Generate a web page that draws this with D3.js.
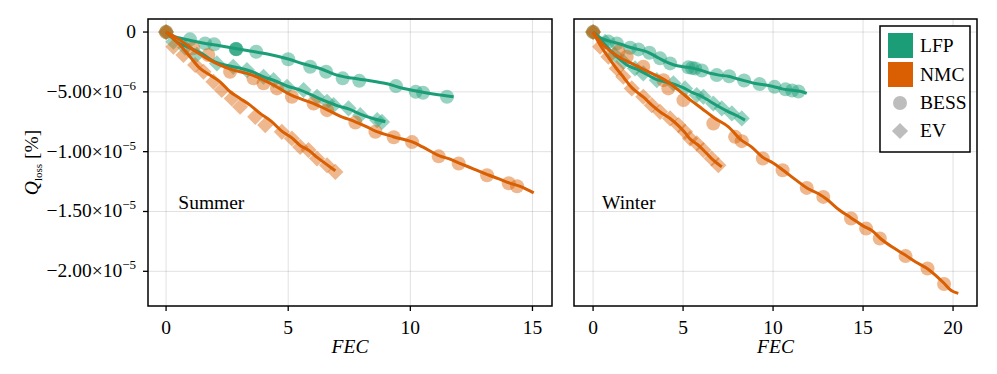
<!DOCTYPE html>
<html>
<head>
<meta charset="utf-8">
<script src="https://cdn.jsdelivr.net/npm/d3@7"></script>
<style>
  body { margin: 0; background: #fff; }
</style>
</head>
<body>
<div class="canvas"></div>
<script>
// values in units of 1e-6 (Q_loss), x in FEC
const summerLfpBess = [[0,0],[0.98,-0.61],[1.6,-0.95],[1.97,-1.03],[2.86,-1.42],[2.86,-1.42],[2.88,-1.44],
  [3.69,-1.65],[5.0,-2.28],[5.9,-2.9],[6.55,-3.32],[7.23,-3.87],[7.91,-4.08],[9.41,-4.52],[10.22,-5.0],[10.52,-5.08],[11.5,-5.41]];
const summerLfpEv = [[0,0],[0.3,-0.81],[0.78,-1.3],[1.26,-1.9],[2.08,-2.62],[2.75,-2.9],[3.31,-3.18],[3.99,-3.74],
  [4.4,-4.02],[4.95,-4.58],[5.63,-4.85],[6.18,-5.41],[6.59,-5.83],[6.86,-6.11],[7.47,-6.38],[7.95,-6.95],[8.64,-7.36],[8.84,-7.51]];
const summerNmcBess = [[0,0],[1.1,-1.35],[1.73,-1.92],[2.62,-3.32],[3.58,-3.87],[3.99,-4.29],[4.54,-4.71],[5.15,-5.41],
  [6.04,-5.97],[6.59,-6.53],[7.75,-7.57],[8.57,-8.34],[9.32,-8.79],[10.07,-9.2],[11.16,-10.39],[11.98,-10.99],
  [13.14,-11.97],[14.03,-12.64],[14.37,-12.89]];
const summerNmcEv = [[0,0],[0.3,-1.23],[0.71,-1.92],[1.19,-2.76],[1.53,-3.32],[1.94,-4.16],[2.28,-4.85],[2.69,-5.55],
  [3.03,-6.25],[3.65,-7.09],[4.06,-7.78],[4.74,-8.34],[5.15,-8.9],[5.49,-9.6],[5.83,-9.87],[6.18,-10.57],[6.59,-11.13],[6.93,-11.69]];

const winterLfpBess = [[0,0],[0.85,-0.8],[1.32,-0.95],[2.06,-1.31],[2.52,-1.45],[3.13,-1.73],[3.72,-2.2],[4.28,-2.62],
  [5.29,-2.95],[5.5,-3.0],[5.67,-3.04],[6.04,-3.22],[6.87,-3.6],[7.56,-3.7],[8.39,-4.05],[9.25,-4.35],[10.08,-4.58],
  [10.69,-4.79],[11.06,-4.89],[11.41,-4.97]];
const winterLfpEv = [[0,0],[0.67,-0.81],[1.2,-1.9],[1.68,-2.49],[2.33,-3.04],[2.79,-3.46],[3.54,-4.02],[4.46,-4.29],
  [5.11,-4.71],[5.76,-5.27],[6.13,-5.41],[6.68,-5.97],[7.15,-6.38],[7.71,-6.8],[8.26,-7.22]];
const winterNmcBess = [[0,0],[1.41,-1.65],[1.87,-2.07],[2.79,-2.9],[3.91,-4.02],[4.18,-4.71],[5.02,-5.69],[6.68,-7.64],
  [7.89,-8.76],[8.26,-9.12],[9.43,-10.57],[10.53,-11.55],[11.87,-13.03],[12.79,-13.78],[14.33,-15.59],[15.17,-16.43],
  [15.93,-17.26],[17.36,-18.73],[18.58,-19.77],[19.5,-21.06]];
const winterNmcEv = [[0,0],[0.39,-1.23],[0.85,-2.07],[1.32,-3.04],[1.68,-3.74],[2.15,-4.71],[2.79,-5.41],[3.26,-6.11],
  [3.72,-6.67],[4.28,-7.22],[4.74,-7.78],[5.11,-8.34],[5.39,-8.9],[5.76,-9.31],[6.13,-9.87],[6.59,-10.57],[6.96,-11.13]];

// fitted lines
const summerLfpBessLine = [[0,0],[0.3,-0.35],[1,-0.7],[1.6,-0.95],[2.2,-1.15],[2.9,-1.4],[3.5,-1.6],[4.2,-1.85],[5,-2.25],
  [5.6,-2.65],[6.3,-3.05],[7,-3.6],[7.6,-3.85],[8.3,-4.05],[9,-4.3],[9.6,-4.65],[10.3,-4.95],[11,-5.2],[11.77,-5.4]];
const summerLfpEvLine = [[0,0],[0.5,-0.9],[1,-1.35],[1.5,-1.85],[2,-2.5],[2.5,-2.8],[3,-3.0],[3.5,-3.3],[4,-3.75],
  [4.5,-4.1],[5,-4.55],[5.5,-4.85],[6,-5.3],[6.5,-5.75],[7,-6.15],[7.5,-6.45],[8,-6.9],[8.5,-7.25],[8.98,-7.5]];
const summerNmcBessLine = [[0,0],[0.57,-0.67],[1.12,-1.51],[1.67,-2.2],[2.21,-2.76],[2.76,-3.18],[3.31,-3.46],[3.85,-3.87],
  [4.4,-4.43],[5.15,-5.3],[6.0,-5.95],[6.6,-6.5],[7.1,-7.0],[7.75,-7.5],[8.2,-7.9],[8.6,-8.3],[9.3,-8.75],[10.1,-9.2],
  [10.5,-9.6],[11.2,-10.35],[11.6,-10.6],[12,-10.95],[12.6,-11.45],[13.2,-11.95],[13.6,-12.25],[14.1,-12.65],[14.5,-12.9],[15.05,-13.45]];
const summerNmcEvLine = [[0,0],[0.57,-1.09],[0.98,-2.07],[1.39,-3.04],[1.8,-3.6],[2.21,-4.16],[2.62,-4.99],[3.03,-5.55],
  [3.44,-6.11],[3.85,-6.8],[4.3,-7.45],[4.75,-8.3],[5.15,-8.85],[5.5,-9.5],[5.85,-9.9],[6.2,-10.5],[6.6,-11.1],[6.93,-11.6]];

const winterLfpBessLine = [[0,0],[0.5,-0.55],[1,-0.8],[1.5,-1.0],[2,-1.25],[2.5,-1.45],[3,-1.65],[3.5,-2.05],[4,-2.45],
  [4.5,-2.75],[5,-2.9],[5.5,-3.0],[6,-3.2],[6.5,-3.45],[7,-3.6],[7.5,-3.7],[8,-3.9],[8.5,-4.1],[9,-4.3],[9.5,-4.4],
  [10,-4.55],[10.5,-4.75],[11,-4.85],[11.5,-4.95],[11.87,-5.13]];
const winterLfpEvLine = [[0,0],[0.5,-0.8],[1,-1.6],[1.5,-2.3],[2,-2.85],[2.5,-3.15],[3,-3.55],[3.5,-3.95],[4,-4.15],
  [4.5,-4.35],[5,-4.65],[5.5,-5.05],[6,-5.35],[6.5,-5.8],[7,-6.25],[7.5,-6.65],[8,-7.0],[8.44,-7.36]];
const winterNmcBessLine = [[0,0],[0.67,-1.23],[1.41,-2.07],[2.33,-2.76],[3.26,-3.46],[4.0,-4.02],[4.74,-4.85],[5.29,-5.55],
  [6.04,-6.39],[6.78,-7.22],[7.52,-7.92],[8.2,-9.0],[8.8,-9.6],[9.45,-10.5],[10.0,-10.95],[10.6,-11.6],[11.3,-12.4],
  [11.9,-13.05],[12.5,-13.5],[13.0,-14.0],[13.7,-14.9],[14.3,-15.5],[15.0,-16.2],[15.5,-16.6],[16.0,-17.3],[16.6,-17.95],
  [17.3,-18.6],[17.9,-19.2],[18.6,-19.8],[19.0,-20.3],[19.5,-21.0],[19.9,-21.6],[20.29,-21.85]];
const winterNmcEvLine = [[0,0],[0.4,-1.1],[0.85,-2.1],[1.3,-3.05],[1.7,-3.8],[2.15,-4.65],[2.8,-5.45],[3.3,-6.15],
  [3.75,-6.7],[4.3,-7.25],[4.75,-7.85],[5.1,-8.4],[5.4,-8.95],[5.8,-9.4],[6.15,-9.9],[6.6,-10.6],[7.15,-11.27]];

const chemistries = ["LFP", "NMC"];
const usages = ["BESS", "EV"];
const yTicks = [0, -5, -10, -15, -20];
const xTicksSummer = [0, 5, 10, 15];
const xTicksWinter = [0, 5, 10, 15, 20];

const FONT = "'Liberation Serif', serif";
const FS = 19.5;
const color = d3.scaleOrdinal().domain(chemistries).range(["#1b9e77", "#d95f02"]);

const panels = [
  { name: "Summer", left: 148, right: 552, xDomain: [-0.74, 15.8], xTicks: xTicksSummer, showY: true,
    series: [
      { chem: "LFP", use: "BESS", pts: summerLfpBess, line: summerLfpBessLine },
      { chem: "LFP", use: "EV", pts: summerLfpEv, line: summerLfpEvLine },
      { chem: "NMC", use: "BESS", pts: summerNmcBess, line: summerNmcBessLine },
      { chem: "NMC", use: "EV", pts: summerNmcEv, line: summerNmcEvLine },
    ] },
  { name: "Winter", left: 574, right: 977, xDomain: [-1.06, 21.33], xTicks: xTicksWinter, showY: false,
    series: [
      { chem: "LFP", use: "BESS", pts: winterLfpBess, line: winterLfpBessLine },
      { chem: "LFP", use: "EV", pts: winterLfpEv, line: winterLfpEvLine },
      { chem: "NMC", use: "BESS", pts: winterNmcBess, line: winterNmcBessLine },
      { chem: "NMC", use: "EV", pts: winterNmcEv, line: winterNmcEvLine },
    ] },
];

const dims = { width: 997, height: 374, top: 19, bottom: 306 };

const svg = d3.select(".canvas").append("svg")
  .attr("width", dims.width).attr("height", dims.height);

const addText = (sel) => sel.append("text").style("font-family", FONT).attr("font-size", FS).attr("fill", "#000");

const y = d3.scaleLinear().domain([1.09, -22.9]).range([dims.top, dims.bottom]);

const circleSym = d3.symbol().type(d3.symbolCircle).size(Math.PI * 7 * 7);
const diamondSym = d3.symbol().type(d3.symbolSquare).size(130);

const drawMarker = (sel, use) => {
  sel.attr("d", use === "BESS" ? circleSym() : diamondSym());
};

const tickLabel = (v) => {
  if (v === 0) return [{ t: "0" }];
  const exp = Math.floor(Math.log10(Math.abs(v * 1e-6)));
  const mant = (v * 1e-6) / Math.pow(10, exp);
  return [{ t: "\u2212" + Math.abs(mant).toFixed(2) + "\u00d710" }, { t: "\u2212" + Math.abs(exp), sup: true }];
};

panels.forEach((p) => {
  const x = d3.scaleLinear().domain(p.xDomain).range([p.left, p.right]);
  const g = svg.append("g");

  // grid
  g.selectAll(".gx").data(p.xTicks).enter().append("line")
    .attr("x1", (d) => x(d)).attr("x2", (d) => x(d))
    .attr("y1", dims.top).attr("y2", dims.bottom)
    .attr("stroke", "rgba(0,0,0,0.12)").attr("stroke-width", 1);
  g.selectAll(".gy").data(yTicks).enter().append("line")
    .attr("x1", p.left).attr("x2", p.right)
    .attr("y1", (d) => y(d)).attr("y2", (d) => y(d))
    .attr("stroke", "rgba(0,0,0,0.12)").attr("stroke-width", 1);

  // clip
  const clipId = "clip-" + p.name;
  svg.append("clipPath").attr("id", clipId).append("rect")
    .attr("x", p.left).attr("y", dims.top)
    .attr("width", p.right - p.left).attr("height", dims.bottom - dims.top);
  const plot = g.append("g").attr("clip-path", `url(#${clipId})`);

  // markers
  p.series.forEach((s) => {
    plot.selectAll(null).data(s.pts).enter().append("path")
      .call(drawMarker, s.use)
      .attr("transform", (d) => `translate(${x(d[0])},${y(d[1])})` + (s.use === "EV" ? " rotate(45)" : ""))
      .attr("fill", color(s.chem)).attr("fill-opacity", 0.45);
  });

  // lines
  const line = d3.line().x((d) => x(d[0])).y((d) => y(d[1])).curve(d3.curveCatmullRom);
  p.series.forEach((s) => {
    plot.append("path").datum(s.line)
      .attr("d", line).attr("fill", "none")
      .attr("stroke", color(s.chem)).attr("stroke-width", 3)
      .attr("stroke-linejoin", "round").attr("stroke-linecap", "butt");
  });

  // frame
  g.append("rect").attr("x", p.left).attr("y", dims.top)
    .attr("width", p.right - p.left).attr("height", dims.bottom - dims.top)
    .attr("fill", "none").attr("stroke", "#000").attr("stroke-width", 1.5);

  // x ticks
  p.xTicks.forEach((d) => {
    g.append("line").attr("x1", x(d)).attr("x2", x(d))
      .attr("y1", dims.bottom).attr("y2", dims.bottom + 5).attr("stroke", "#000").attr("stroke-width", 1.3);
    addText(g).attr("x", x(d)).attr("y", dims.bottom + 28)
      .attr("text-anchor", "middle").text(d);
  });

  addText(g).attr("x", (p.left + p.right) / 2).attr("y", 353)
    .attr("text-anchor", "middle").attr("font-style", "italic").text("FEC");

  addText(g).attr("x", x(0.5)).attr("y", 209).text(p.name);

  if (p.showY) {
    yTicks.forEach((d) => {
      g.append("line").attr("x1", p.left - 5).attr("x2", p.left)
        .attr("y1", y(d)).attr("y2", y(d)).attr("stroke", "#000").attr("stroke-width", 1.3);
      const t = addText(g).attr("x", p.left - 12).attr("y", y(d) + 6).attr("text-anchor", "end");
      tickLabel(d).forEach((part) => {
        const ts = t.append("tspan").text(part.t);
        if (part.sup) ts.attr("font-size", 13).attr("dy", -8);
      });
    });

    const yl = addText(svg)
      .attr("transform", `translate(38, ${(dims.top + dims.bottom) / 2}) rotate(-90)`)
      .attr("text-anchor", "middle");
    yl.append("tspan").attr("font-style", "italic").text("Q");
    yl.append("tspan").attr("font-size", 11).attr("dy", 4).text("loss");
    yl.append("tspan").attr("dy", -4).text(" [%]");
  }
});

// legend
const legend = svg.append("g").attr("transform", "translate(880, 26)");
legend.append("rect").attr("width", 90).attr("height", 126)
  .attr("fill", "#fff").attr("stroke", "#000").attr("stroke-width", 1.5);
chemistries.forEach((c, i) => {
  legend.append("rect").attr("x", 8).attr("y", 7 + i * 29).attr("width", 25).attr("height", 25)
    .attr("fill", color(c));
  addText(legend).attr("x", 40).attr("y", 26 + i * 29).text(c);
});
usages.forEach((u, i) => {
  legend.append("path")
    .call(drawMarker, u)
    .attr("transform", `translate(20, ${77 + i * 28})` + (u === "EV" ? " rotate(45)" : ""))
    .attr("fill", "#bdbdbd");
  addText(legend).attr("x", 40).attr("y", 83 + i * 28).text(u);
});
</script>
</body>
</html>
